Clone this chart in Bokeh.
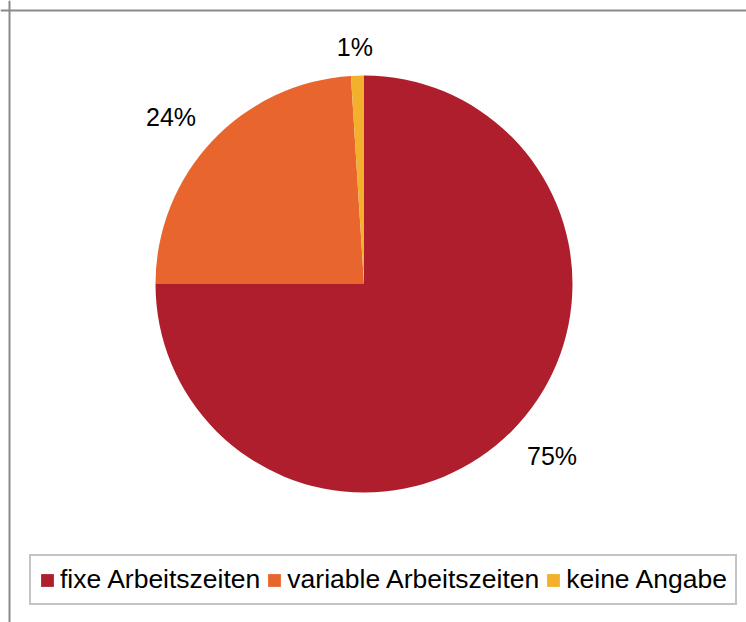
import math
from bokeh.plotting import figure
from bokeh.models import ColumnDataSource, Span
from bokeh.core.properties import value
from bokeh.embed import file_html
from bokeh.resources import INLINE

categories = ["fixe Arbeitszeiten", "variable Arbeitszeiten", "keine Angabe"]
shares = [0.75, 0.24, 0.01]
labels = ["75%", "24%", "1%"]
colors = ["#AE1E2D", "#E8652D", "#F2B02D"]

W, H = 746, 622
cx, cy, r = 363.5, 338.5, 208.5
font = "Liberation Sans"
label_size = 25
gap = 15


def clamp(v):
    return max(-1.0, min(1.0, v))


start, end, lx, ly = [], [], [], []
cum = 0.0
for s, lab in zip(shares, labels):
    a0 = math.pi / 2 - cum * 2 * math.pi
    cum += s
    a1 = math.pi / 2 - cum * 2 * math.pi
    start.append(a0)
    end.append(a1)
    mid = (a0 + a1) / 2
    ux, uy = math.cos(mid), math.sin(mid)
    wem = sum(0.889 if ch == "%" else 0.556 for ch in lab)
    hw = wem * label_size / 2 + 5      # half label box width (with padding)
    hh = 0.56 * label_size             # half label box height
    R = r + gap
    lx.append(cx + R * ux + hw * clamp(3 * ux))
    ly.append(cy + R * uy + hh * clamp(3 * uy))

src = ColumnDataSource(dict(cat=categories, start=start, end=end, color=colors,
                            lab=labels, lx=lx, ly=ly))

p = figure(width=W, height=H, x_range=(0, W), y_range=(0, H),
           x_axis_type=None, y_axis_type=None, output_backend="svg",
           toolbar_location=None, min_border=0, outline_line_color=None)
p.grid.visible = False

p.add_layout(Span(location=H - 10, dimension="width", line_color="#8a8a8a", line_width=2))
p.add_layout(Span(location=9, dimension="height", line_color="#8a8a8a", line_width=2))

p.wedge(x=cx, y=cy, radius=r, start_angle="start", end_angle="end",
        direction="clock", fill_color="color", line_color=None,
        legend_field="cat", source=src)

p.text(x="lx", y="ly", text="lab", source=src, text_font=value(font),
       text_font_size=f"{label_size}px", text_align="center",
       text_baseline="middle", text_color="black")

lg = p.legend[0]
lg.orientation = "horizontal"
lg.location = (29, 17)
lg.label_text_font = font
lg.label_text_font_size = "26.5px"
lg.label_text_color = "black"
lg.glyph_width = 16
lg.glyph_height = 16
lg.label_standoff = 5
lg.spacing = 6
lg.padding = 8
lg.margin = 0
lg.border_line_color = "#8a8a8a"
lg.border_line_width = 2
lg.background_fill_alpha = 1

open("out.html", "w").write(file_html(p, INLINE))
